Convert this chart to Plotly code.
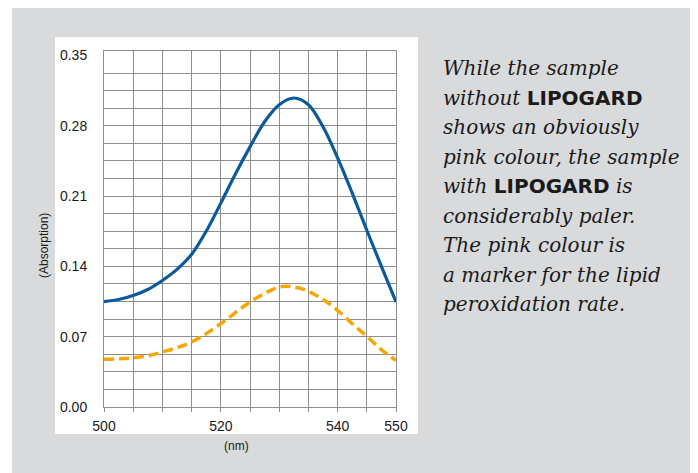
import plotly.graph_objects as go

wavelength = [500, 502.5, 505, 507.5, 510, 512.5, 515, 517.5, 520, 522.5, 525,
              527.5, 530, 532.5, 535, 537.5, 540, 542.5, 545, 547.5, 550]
without_lipogard = [0.105, 0.107, 0.111, 0.117, 0.126, 0.137, 0.152, 0.175, 0.203, 0.232, 0.259,
                    0.284, 0.301, 0.3077, 0.301, 0.279, 0.248, 0.213, 0.176, 0.140, 0.1046]
with_lipogard = [0.0475, 0.048, 0.049, 0.051, 0.0548, 0.059, 0.0647, 0.073, 0.083, 0.094, 0.1046,
                 0.113, 0.1195, 0.1195, 0.1152, 0.107, 0.0963, 0.083, 0.0704, 0.057, 0.0465]
x_ticks = [500, 520, 540, 550]
y_ticks = [0.00, 0.07, 0.14, 0.21, 0.28, 0.35]
text_lines = [
    "<i>While the sample</i>",
    "<i>without </i><span style='font-family:DejaVu Sans;font-weight:bold;font-style:normal'>LIPOGARD</span>",
    "<i>shows an obviously</i>",
    "<i>pink colour, the sample</i>",
    "<i>with </i><span style='font-family:DejaVu Sans;font-weight:bold;font-style:normal'>LIPOGARD</span><i> is</i>",
    "<i>considerably paler.</i>",
    "<i>The pink colour is</i>",
    "<i>a marker for the lipid</i>",
    "<i>peroxidation rate.</i>",
]

# page body has an 8px margin: work in screen pixels and shift
OFF = 8
W, H = 698 - OFF, 473 - OFF
L, R, T, B = 104 - OFF, 396 - OFF, 51 - OFF, 407 - OFF


def px(x):
    return (x - OFF - L) / (R - L)


def py(y):
    return (B - (y - OFF)) / (B - T)


# horizontal gridlines every 0.0175 below the top frame
y_grid = [round(k * 0.0175, 4) for k in range(20)]

fig = go.Figure()
fig.add_trace(go.Scatter(x=wavelength, y=without_lipogard, mode="lines",
                         line=dict(color="#0c5a9c", width=3.2, shape="spline"),
                         showlegend=False))
fig.add_trace(go.Scatter(x=wavelength, y=with_lipogard, mode="lines",
                         line=dict(color="#f5a600", width=3.5, shape="spline", dash="10px,5px"),
                         showlegend=False))

shapes = [
    dict(type="rect", xref="paper", yref="paper", x0=px(12), x1=px(693), y0=py(7), y1=py(474),
         fillcolor="#d9dadc", line=dict(width=0), layer="below"),
    dict(type="rect", xref="paper", yref="paper", x0=px(55), x1=px(418), y0=py(37), y1=py(434),
         fillcolor="white", line=dict(width=0), layer="below"),
]

annotations = [
    dict(text="(Absorption)", xref="paper", yref="paper", x=px(44), y=py(246), showarrow=False,
         textangle=-90, font=dict(family="Liberation Sans", size=12, color="#1a1a1a"),
         xanchor="center", yanchor="middle"),
    dict(text="(nm)", xref="paper", yref="paper", x=px(236), y=py(446), showarrow=False,
         font=dict(family="Liberation Sans", size=12, color="#1a1a1a"),
         xanchor="center", yanchor="middle"),
]
for i, t in enumerate(text_lines):
    annotations.append(dict(text=t, xref="paper", yref="paper", x=px(441), y=py(68 + i * 29.5),
                            showarrow=False, xanchor="left", yanchor="middle",
                            font=dict(family="DejaVu Serif", size=20, color="#1a1a1a")))

fig.update_layout(
    width=W, height=H,
    margin=dict(l=L, r=W - R, t=T, b=H - B, pad=0),
    paper_bgcolor="white", plot_bgcolor="white",
    shapes=shapes, annotations=annotations,
    xaxis=dict(range=[500, 550], tickvals=x_ticks, ticktext=[str(v) for v in x_ticks],
               showgrid=True, gridcolor="#8e8e8e", gridwidth=1,
               minor=dict(dtick=5, tick0=500, showgrid=True, gridcolor="#8e8e8e", gridwidth=1,
                          ticks="outside", ticklen=4, tickcolor="#8e8e8e"),
               ticks="outside", ticklen=4, tickcolor="#8e8e8e",
               showline=True, linecolor="#8e8e8e", linewidth=1, mirror=True,
               zeroline=False, ticklabelstandoff=2,
               tickfont=dict(family="Liberation Sans", size=14, color="#1a1a1a")),
    yaxis=dict(range=[0, 0.3545], tickvals=y_ticks, ticktext=["%.2f" % v for v in y_ticks],
               showgrid=False,
               minor=dict(tickmode="array", tickvals=y_grid, showgrid=True,
                          gridcolor="#8e8e8e", gridwidth=1, ticks=""),
               ticks="", showline=True, linecolor="#8e8e8e", linewidth=1, mirror=True,
               zeroline=False, ticklabelstandoff=13,
               tickfont=dict(family="Liberation Sans", size=14, color="#1a1a1a")),
)

fig.write_html("out.html")
